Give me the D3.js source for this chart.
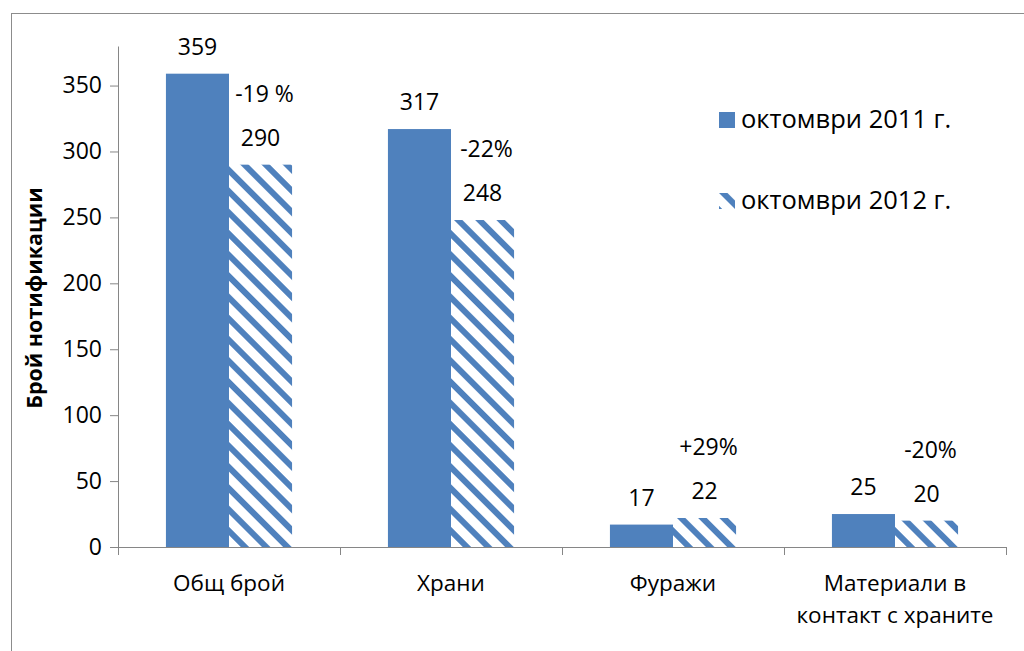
<!DOCTYPE html>
<html>
<head>
<meta charset="utf-8">
<script src="https://cdn.jsdelivr.net/npm/d3@7"></script>
<style>
  body { margin: 0; background: #fff; }
  svg { display: block; font-family: "Open Sans", sans-serif; }
</style>
</head>
<body>
<svg id="chart" width="1024" height="651"></svg>
<script>
// data
var categories = ["Общ брой", "Храни", "Фуражи", "Материали в контакт с храните"];
var categoryLines = [["Общ брой"], ["Храни"], ["Фуражи"], ["Материали в", "контакт с храните"]];
var seriesNames = ["октомври 2011 г.", "октомври 2012 г."];
var values2011 = [359, 317, 17, 25];
var values2012 = [290, 248, 22, 20];
var changeLabels = ["-19 %", "-22%", "+29%", "-20%"];
var yTicks = [0, 50, 100, 150, 200, 250, 300, 350];

var svg = d3.select("#chart");
var blue = "#4f81bd";

// hatch pattern
var defs = svg.append("defs");
defs.append("pattern")
    .attr("id", "hatch")
    .attr("patternUnits", "userSpaceOnUse")
    .attr("width", 15)
    .attr("height", 15)
    .attr("patternTransform", "rotate(-45)")
  .append("rect")
    .attr("x", 0).attr("y", 0)
    .attr("width", 6).attr("height", 15)
    .attr("fill", blue);

// outer frame
svg.append("rect")
    .attr("x", 11.5).attr("y", 13.5)
    .attr("width", 1030).attr("height", 660)
    .attr("fill", "none")
    .attr("stroke", "#8c8c8c")
    .attr("stroke-width", 1);

var x0 = d3.scaleBand()
    .domain(categories)
    .range([118, 1006])
    .paddingInner(0)
    .paddingOuter(0);

var x1 = d3.scaleBand()
    .domain(seriesNames)
    .range([0, x0.bandwidth()])
    .paddingInner(0)
    .paddingOuter(0.76);

var y = d3.scaleLinear()
    .domain([0, 380])
    .range([547, 46]);

// y axis
var yAxis = svg.append("g")
    .attr("transform", "translate(118,0)")
    .call(d3.axisLeft(y).tickValues(yTicks).tickSize(8).tickPadding(8).tickSizeOuter(0));
yAxis.select(".domain").attr("stroke", "#868686");
yAxis.selectAll(".tick line").attr("stroke", "#868686");
yAxis.selectAll(".tick text")
    .attr("font-family", "Open Sans")
    .attr("font-size", 23)
    .attr("fill", "#000");

// x axis
var xAxis = svg.append("g")
    .attr("transform", "translate(0,547)");
xAxis.append("line")
    .attr("x1", 118).attr("x2", 1006)
    .attr("y1", 0.5).attr("y2", 0.5)
    .attr("stroke", "#868686");
xAxis.selectAll(".xtick")
    .data(categories.concat([null]))
    .enter().append("line")
    .attr("x1", function (d, i) { return Math.round(i < categories.length ? x0(d) : x0.range()[1]) + 0.5; })
    .attr("x2", function (d, i) { return Math.round(i < categories.length ? x0(d) : x0.range()[1]) + 0.5; })
    .attr("y1", 0).attr("y2", 8)
    .attr("stroke", "#868686");

xAxis.selectAll(".xlabel")
    .data(categories)
    .enter().append("text")
    .attr("text-anchor", "middle")
    .attr("font-size", 22.5)
    .attr("fill", "#000")
    .each(function (d, i) {
        var t = d3.select(this);
        categoryLines[i].forEach(function (line, j) {
            t.append("tspan")
                .attr("x", x0(d) + x0.bandwidth() / 2)
                .attr("y", 44 + j * 32)
                .text(line);
        });
    });

// y axis title
svg.append("text")
    .attr("transform", "translate(42,298) rotate(-90)")
    .attr("text-anchor", "middle")
    .attr("font-size", 21.5)
    .attr("font-weight", "bold")
    .attr("fill", "#000")
    .text("Брой нотификации");

// bars
var rows = categories.map(function (c, i) {
    return { cat: c, vals: [values2011[i], values2012[i]], change: changeLabels[i] };
});

var groups = svg.selectAll(".grp")
    .data(rows)
    .enter().append("g")
    .attr("transform", function (d) { return "translate(" + x0(d.cat) + ",0)"; });

groups.selectAll("rect")
    .data(function (d) { return d.vals.map(function (v, k) { return { s: seriesNames[k], v: v, k: k }; }); })
    .enter().append("rect")
    .attr("x", function (d) { return x1(d.s); })
    .attr("width", x1.bandwidth())
    .attr("y", function (d) { return y(d.v); })
    .attr("height", function (d) { return y(0) - y(d.v); })
    .attr("fill", function (d) { return d.k === 0 ? blue : "url(#hatch)"; });

groups.selectAll(".val")
    .data(function (d) { return d.vals.map(function (v, k) { return { s: seriesNames[k], v: v }; }); })
    .enter().append("text")
    .attr("x", function (d) { return x1(d.s) + x1.bandwidth() / 2; })
    .attr("y", function (d) { return y(d.v) - 19; })
    .attr("text-anchor", "middle")
    .attr("font-size", 23)
    .attr("fill", "#000")
    .text(function (d) { return d.v; });

groups.append("text")
    .attr("x", function () { return x1(seriesNames[1]) + x1.bandwidth() / 2 + 4; })
    .attr("y", function (d) { return y(d.vals[1]) - 63; })
    .attr("text-anchor", "middle")
    .attr("font-size", 23)
    .attr("fill", "#000")
    .text(function (d) { return d.change; });

// legend
var legend = svg.selectAll(".leg")
    .data(seriesNames)
    .enter().append("g")
    .attr("transform", function (d, i) { return "translate(719," + (112 + i * 81) + ")"; });

legend.append("rect")
    .attr("width", 16).attr("height", 16)
    .attr("fill", function (d, i) { return i === 0 ? blue : "url(#hatch)"; });

legend.append("text")
    .attr("x", 22)
    .attr("y", 16)
    .attr("font-size", 25.5)
    .attr("fill", "#000")
    .text(function (d) { return d; });
</script>
</body>
</html>
